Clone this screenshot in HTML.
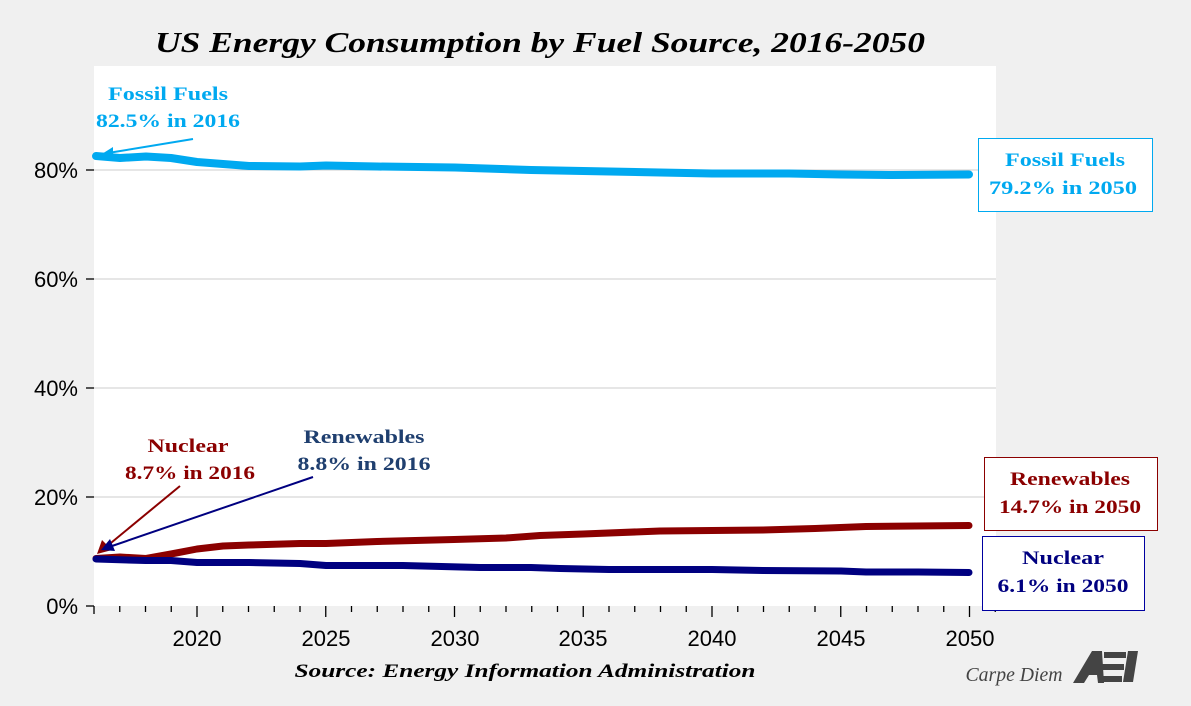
<!DOCTYPE html>
<html><head><style>
body{margin:0;background:#f0f0f0;}
svg{display:block;}
</style></head><body>
<svg width="1191" height="706" xmlns="http://www.w3.org/2000/svg" font-family="Liberation Serif, serif">
<rect width="1191" height="706" fill="#f0f0f0"/>
<rect x="94" y="66" width="902" height="540" fill="#fff"/>
<g stroke="#cccccc" stroke-width="1">
<line x1="94" y1="170" x2="996" y2="170"/>
<line x1="94" y1="279" x2="996" y2="279"/>
<line x1="94" y1="388" x2="996" y2="388"/>
<line x1="94" y1="497" x2="996" y2="497"/>
</g>
<g stroke="#000" stroke-width="1.3">
<line x1="86" y1="170" x2="94" y2="170"/>
<line x1="86" y1="279" x2="94" y2="279"/>
<line x1="86" y1="388" x2="94" y2="388"/>
<line x1="86" y1="497" x2="94" y2="497"/>
<line x1="86" y1="606" x2="94" y2="606"/>
<line x1="94" y1="606" x2="94" y2="614"/>
<line x1="119.75" y1="606" x2="119.75" y2="612"/><line x1="145.5" y1="606" x2="145.5" y2="612"/><line x1="171.25" y1="606" x2="171.25" y2="612"/>
<line x1="197" y1="606" x2="197" y2="617"/>
<line x1="222.75" y1="606" x2="222.75" y2="612"/><line x1="248.5" y1="606" x2="248.5" y2="612"/><line x1="274.25" y1="606" x2="274.25" y2="612"/><line x1="300" y1="606" x2="300" y2="612"/>
<line x1="325.75" y1="606" x2="325.75" y2="617"/>
<line x1="351.5" y1="606" x2="351.5" y2="612"/><line x1="377.25" y1="606" x2="377.25" y2="612"/><line x1="403" y1="606" x2="403" y2="612"/><line x1="428.75" y1="606" x2="428.75" y2="612"/>
<line x1="454.5" y1="606" x2="454.5" y2="617"/>
<line x1="480.25" y1="606" x2="480.25" y2="612"/><line x1="506" y1="606" x2="506" y2="612"/><line x1="531.75" y1="606" x2="531.75" y2="612"/><line x1="557.5" y1="606" x2="557.5" y2="612"/>
<line x1="583.25" y1="606" x2="583.25" y2="617"/>
<line x1="609" y1="606" x2="609" y2="612"/><line x1="634.75" y1="606" x2="634.75" y2="612"/><line x1="660.5" y1="606" x2="660.5" y2="612"/><line x1="686.25" y1="606" x2="686.25" y2="612"/>
<line x1="712" y1="606" x2="712" y2="617"/>
<line x1="737.75" y1="606" x2="737.75" y2="612"/><line x1="763.5" y1="606" x2="763.5" y2="612"/><line x1="789.25" y1="606" x2="789.25" y2="612"/><line x1="815" y1="606" x2="815" y2="612"/>
<line x1="840.75" y1="606" x2="840.75" y2="617"/>
<line x1="866.5" y1="606" x2="866.5" y2="612"/><line x1="892.25" y1="606" x2="892.25" y2="612"/><line x1="918" y1="606" x2="918" y2="612"/><line x1="943.75" y1="606" x2="943.75" y2="612"/>
<line x1="969.5" y1="606" x2="969.5" y2="617"/>
<line x1="995.25" y1="606" x2="995.25" y2="612"/>
</g>
<g font-family="Liberation Sans, sans-serif" font-size="22" fill="#000" text-anchor="end">
<text x="78" y="178">80%</text><text x="78" y="287">60%</text><text x="78" y="396">40%</text><text x="78" y="505">20%</text><text x="78" y="614">0%</text>
</g>
<g font-family="Liberation Sans, sans-serif" font-size="22" fill="#000" text-anchor="middle">
<text x="197" y="646">2020</text><text x="326" y="646">2025</text><text x="455" y="646">2030</text><text x="583" y="646">2035</text><text x="712" y="646">2040</text><text x="841" y="646">2045</text><text x="970" y="646">2050</text>
</g>
<g fill="none" stroke-linejoin="round" stroke-linecap="round" stroke-width="7">
<polyline stroke="#00a9f0" stroke-width="8" points="96,156 120,158 146,156.5 171,158 197,162 223,164 249,166 300,166.5 326,165.5 377,166.5 455,167.5 531,170 583,171 660,172.5 712,173.5 789,173.5 841,174.5 892,175 969,174.5"/>
<polyline stroke="#8b0000" points="96,558.5 120,557 146,558.5 171,554 197,549 223,546 249,545 300,543.5 326,543.5 377,541.5 454,539.5 506,538 540,535.5 583,534 660,531 712,530.5 763,530 815,528.5 866,526.5 969,525.5"/>
<polyline stroke="#000080" points="96,559 145.5,560.5 171,560.5 197,562.5 249,562.5 300,563.5 326,565.5 403,565.5 480,567.5 531,567.5 560,568.5 609,569.5 712,569.5 763,570.5 841,571 866,572 918,572 969,572.5"/>
</g>
<line x1="193" y1="139" x2="108" y2="153" stroke="#00a9f0" stroke-width="2"/>
<polygon points="97,157 113,147 113,157" fill="#00a9f0"/>
<line x1="180" y1="486" x2="106" y2="547" stroke="#8b0000" stroke-width="2"/>
<polygon points="97,554 102,540 112,550" fill="#8b0000"/>
<line x1="313" y1="477" x2="112" y2="546" stroke="#000080" stroke-width="2"/>
<polygon points="101,550 110,539 115,551" fill="#000080"/>
<text x="540" y="52" text-anchor="middle" font-size="28" font-weight="bold" font-style="italic" fill="#000" textLength="770" lengthAdjust="spacingAndGlyphs">US Energy Consumption by Fuel Source, 2016-2050</text>
<g font-size="19" font-weight="bold" text-anchor="middle" lengthAdjust="spacingAndGlyphs">
<text x="168" y="100" fill="#00a9f0" textLength="120" lengthAdjust="spacingAndGlyphs">Fossil Fuels</text>
<text x="168" y="127" fill="#00a9f0" textLength="144" lengthAdjust="spacingAndGlyphs">82.5% in 2016</text>
<text x="188" y="452" fill="#8b0000" textLength="81" lengthAdjust="spacingAndGlyphs">Nuclear</text>
<text x="190" y="479" fill="#8b0000" textLength="130" lengthAdjust="spacingAndGlyphs">8.7% in 2016</text>
<text x="364" y="443" fill="#1f3f6f" textLength="121" lengthAdjust="spacingAndGlyphs">Renewables</text>
<text x="364" y="470" fill="#1f3f6f" textLength="133" lengthAdjust="spacingAndGlyphs">8.8% in 2016</text>
</g>
<rect x="978.5" y="138.5" width="174" height="73" fill="#fff" stroke="#00a9f0" stroke-width="1"/>
<rect x="984.5" y="457.5" width="173" height="73" fill="#fff" stroke="#8b0000" stroke-width="1"/>
<rect x="982.5" y="536.5" width="162" height="74" fill="#fff" stroke="#0000a0" stroke-width="1"/>
<g font-size="19" font-weight="bold" text-anchor="middle">
<text x="1065" y="166" fill="#00a9f0" textLength="120" lengthAdjust="spacingAndGlyphs">Fossil Fuels</text>
<text x="1063" y="194" fill="#00a9f0" textLength="148" lengthAdjust="spacingAndGlyphs">79.2% in 2050</text>
<text x="1070" y="485" fill="#8b0000" textLength="120" lengthAdjust="spacingAndGlyphs">Renewables</text>
<text x="1070" y="513" fill="#8b0000" textLength="142" lengthAdjust="spacingAndGlyphs">14.7% in 2050</text>
<text x="1063" y="564" fill="#000080" textLength="82" lengthAdjust="spacingAndGlyphs">Nuclear</text>
<text x="1063" y="592" fill="#000080" textLength="131" lengthAdjust="spacingAndGlyphs">6.1% in 2050</text>
</g>
<text x="525" y="677" text-anchor="middle" font-size="19" font-weight="bold" font-style="italic" fill="#000" textLength="461" lengthAdjust="spacingAndGlyphs">Source: Energy Information Administration</text>
<text x="1014" y="681" text-anchor="middle" font-size="20" font-style="italic" fill="#444" textLength="97" lengthAdjust="spacingAndGlyphs">Carpe Diem</text>
<g fill="#444">
<polygon points="1073,683 1092,651 1102,651 1104,683 1098,683 1097,675 1089,675 1084,683"/>
<rect x="1104" y="652" width="22" height="6"/>
<rect x="1102" y="664" width="22" height="6"/>
<rect x="1100" y="676" width="22" height="6"/>
<polygon points="1128,651 1138,651 1133,682 1123,682"/>
</g>
</svg>
</body></html>
